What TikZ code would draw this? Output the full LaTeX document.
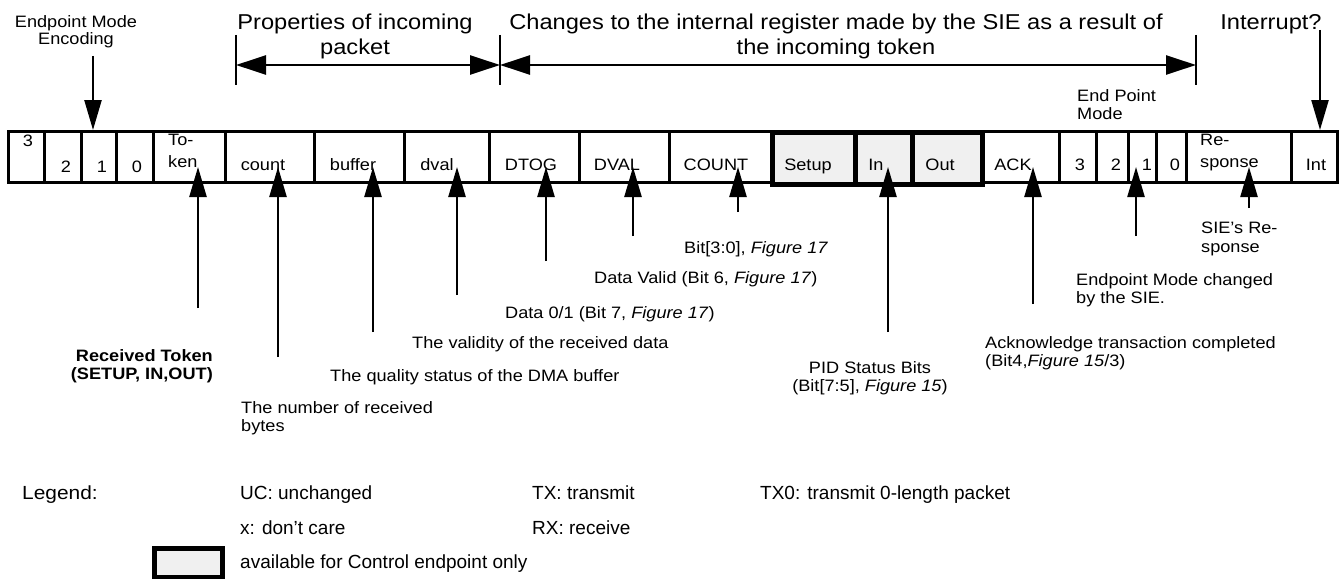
\documentclass[tikz,border=0pt]{standalone}
\usepackage{fontspec}
\setmainfont[FakeStretch=1.1]{Liberation Sans}
\newfontfamily\legendfont{Liberation Sans}
\usetikzlibrary{arrows.meta}
\begin{document}
\begin{tikzpicture}[x=1pt,y=-1pt,
  txt/.style={inner sep=0pt, font=\fontsize{16.5}{18.5}\selectfont},
  ctxt/.style={inner sep=0pt, anchor=base, font=\fontsize{16.5}{18.5}\selectfont},
  hdr/.style={inner sep=0pt, font=\fontsize{21.5}{25}\selectfont},
  leg/.style={inner sep=0pt, anchor=base west, font=\legendfont\fontsize{19}{22}\selectfont},
  cellbox/.style={draw, line width=2.8pt, inner sep=0pt, minimum height=51pt, anchor=north west},
  ctrlbox/.style={draw, line width=5pt, fill=black!6, inner sep=0pt, minimum height=52pt, anchor=north west},
  uparrow/.style={line width=2.4pt, -{Triangle[length=30pt,width=17pt]}},
  downarrow/.style={line width=2.4pt, -{Triangle[length=30pt,width=17pt]}},
  dimarrow/.style={line width=2.4pt, {Triangle[length=30pt,width=19pt]}-{Triangle[length=30pt,width=19pt]}},
  tickline/.style={line width=2.4pt},
]
\useasboundingbox (0,0) rectangle (1343,578);

% register cells
\foreach \n/\l/\r in {c3a/7/43, c2a/43/80, c1a/80/115, c0a/115/152, cTok/152/224, cCnt/224/313,
  cBuf/313/403, cDv/403/488, cDTOG/488/578, cDVAL/578/668, cCOUNT/668/770, cACK/980/1058,
  c3b/1058/1095, c2b/1095/1127, c1b/1127/1155, c0b/1155/1185, cResp/1185/1290, cInt/1290/1336}
  \node[cellbox, minimum width={(\r-\l)*1pt}] (\n) at (\l,130) {};
\node[ctrlbox, minimum width=83pt] (cSetup) at (770,129.5) {};
\node[ctrlbox, minimum width=57pt] (cIn) at (853,129.5) {};
\node[ctrlbox, minimum width=70pt] (cOut) at (910,129.5) {};

% cell texts
\node[ctxt] (t3a) at (28,146) {3};
\node[ctxt] (t2a) at (66,172) {2};
\node[ctxt] (t1a) at (102,172) {1};
\node[ctxt] (t0a) at (137,172) {0};
\node[txt, anchor=north west, align=left, font=\fontsize{16.5}{22}\selectfont] (tTok) at (168,134) {To-\\ken};
\node[ctxt] (tCnt) at (263,170) {count};
\node[ctxt] (tBuf) at (353,170) {buffer};
\node[ctxt] (tDv) at (437,170) {dval};
\node[ctxt] (tDTOG) at (531,170) {DTOG};
\node[ctxt] (tDVAL) at (617,170) {DVAL};
\node[ctxt] (tCOUNT) at (716,170) {COUNT};
\node[ctxt] (tSetup) at (808,170) {Setup};
\node[ctxt] (tIn) at (876,170) {In};
\node[ctxt] (tOut) at (940,170) {Out};
\node[ctxt] (tACK) at (1013,170) {ACK};
\node[ctxt] (t3b) at (1080,170) {3};
\node[ctxt] (t2b) at (1116,170) {2};
\node[ctxt] (t1b) at (1147,170) {1};
\node[ctxt] (t0b) at (1175,170) {0};
\node[txt, anchor=north west, align=left, font=\fontsize{16.5}{22}\selectfont] (tResp) at (1200,134) {Re-\\sponse};
\node[ctxt] (tInt) at (1316,170) {Int};

% headings
\node[txt, anchor=north, align=center, font=\fontsize{16.5}{17}\selectfont] (hEnc) at (76,15) {Endpoint Mode\\Encoding};
\coordinate (encS) at (93,56);
\coordinate (encT) at (93,130);
\draw[downarrow] (encS) -- (encT);

\node[hdr, anchor=north, align=center] (hProp) at (355,14) {Properties of incoming\\packet};
\node[hdr, anchor=north, align=center] (hChg) at (836,14) {Changes to the internal register made by the SIE as a result of\\the incoming token};
\node[hdr, anchor=base] (hInt) at (1271,30) {Interrupt?};
\coordinate (intS) at (1320,30);
\coordinate (intT) at (1320,130);
\draw[downarrow] (intS) -- (intT);

\coordinate (tk1a) at (236,35); \coordinate (tk1b) at (236,85);
\coordinate (tk2a) at (500,35); \coordinate (tk2b) at (500,85);
\coordinate (tk3a) at (1196,35); \coordinate (tk3b) at (1196,85);
\draw[tickline] (tk1a) -- (tk1b);
\draw[tickline] (tk2a) -- (tk2b);
\draw[tickline] (tk3a) -- (tk3b);
\coordinate (dimL) at (236,65); \coordinate (dimM) at (500,65); \coordinate (dimR) at (1196,65);
\draw[dimarrow] (dimL) -- (dimM);
\draw[dimarrow] (dimM) -- (dimR);

\node[txt, anchor=north west, align=left] (hEPM) at (1077,89) {End Point\\Mode};

% up arrows
\foreach \n/\x/\y in {Tok/198/308, Cnt/278/357, Buf/373/332, Dv/457/295, DTOG/546/261,
  DVAL/633/236, COUNT/738/212, In/888/332, ACK/1033/304, Mode/1136/236, Resp/1249/208} {
  \coordinate (b\n) at (\x,\y);
  \coordinate (a\n) at (\x,167);
  \draw[uparrow] (b\n) -- (a\n);
}

% labels
\node[txt, anchor=north east, align=right, font=\bfseries\fontsize{16.5}{18.5}\selectfont] (lTok) at (213,349) {Received Token\\(SETUP, IN,OUT)};
\node[txt, anchor=north west, align=left] (lCnt) at (241,401) {The number of received\\bytes};
\node[txt, anchor=base west] (lBuf) at (330,381) {The quality status of the DMA buffer};
\node[txt, anchor=base west] (lDv) at (412,348) {The validity of the received data};
\node[txt, anchor=base west] (lDTOG) at (505,318) {Data 0/1 (Bit 7, \textit{Figure 17})};
\node[txt, anchor=base west] (lDVAL) at (594,283) {Data Valid (Bit 6, \textit{Figure 17})};
\node[txt, anchor=base west] (lCOUNT) at (684,253) {Bit[3:0], \textit{Figure 17}};
\node[txt, anchor=north, align=center] (lIn) at (870,361) {PID Status Bits\\(Bit[7:5], \textit{Figure 15})};
\node[txt, anchor=north west, align=left] (lACK) at (985,336) {Acknowledge transaction completed\\(Bit4,\textit{Figure 15}/3)};
\node[txt, anchor=north west, align=left] (lMode) at (1076,273) {Endpoint Mode changed\\by the SIE.};
\node[txt, anchor=north west, align=left] (lResp) at (1201,222) {SIE’s Re-\\sponse};

% legend
\node[inner sep=0pt, anchor=base west, font=\fontsize{19}{22}\selectfont] (legT) at (22,499) {Legend:};
\node[leg] (lg1) at (240,499) {UC: unchanged};
\node[leg] (lg2) at (532,499) {TX: transmit};
\node[leg] (lg3) at (760,499) {TX0: transmit 0-length packet};
\node[leg] (lg4) at (240,534) {x: don’t care};
\node[leg] (lg5) at (532,534) {RX: receive};
\node[ctrlbox, minimum width=68pt, minimum height=29pt] (legbox) at (152,546) {};
\node[leg] (lg6) at (240,568) {available for Control endpoint only};
\end{tikzpicture}
\end{document}
